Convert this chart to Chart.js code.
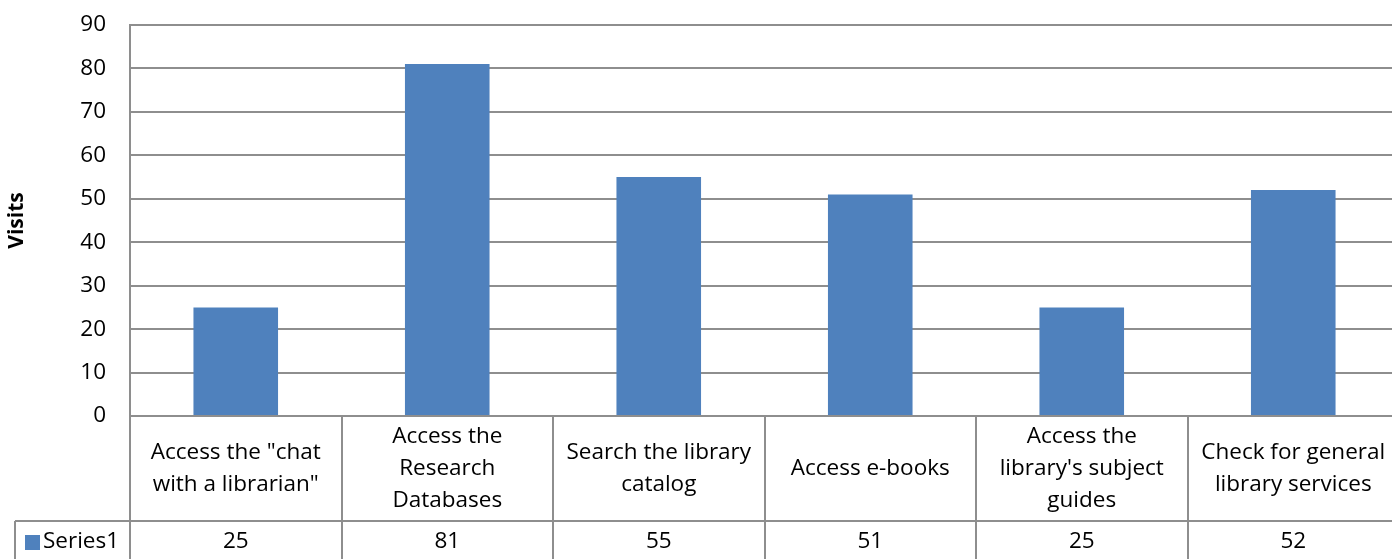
<!DOCTYPE html>
<html>
<head>
<meta charset="utf-8">
<script src="https://cdn.jsdelivr.net/npm/chart.js@4"></script>
<style>
  body { margin: 0; overflow: hidden; background: #fff; }
  #wrap { width: 1400px; height: 559px; }
</style>
</head>
<body>
<div id="wrap"><canvas id="myChart" width="1400" height="559"></canvas></div>
<script>
// categories, split into the lines they take in the data table
const categories = [
  ['Access the "chat', 'with a librarian"'],
  ['Access the', 'Research', 'Databases'],
  ['Search the library', 'catalog'],
  ['Access e-books'],
  ['Access the', "library's subject", 'guides'],
  ['Check for general', 'library services']
];
const seriesName = 'Series1';
const visits = [25, 81, 55, 51, 25, 52];
const yTicks = [0, 10, 20, 30, 40, 50, 60, 70, 80, 90];

const barColor = '#4f81bd';
const gridColor = '#8e8e8e';
const fontFamily = '"Open Sans", Lato, sans-serif';

// draws the data table under the plot (category row + values row)
const dataTable = {
  id: 'dataTable',
  afterDraw(chart) {
    const c = chart.ctx;
    const x = chart.scales.x;
    const area = chart.chartArea;
    const n = categories.length;
    const colW = (area.right - area.left) / n;
    const rowSplit = area.bottom + 105;
    const bottom = chart.height;

    c.save();
    c.strokeStyle = gridColor;
    c.lineWidth = 2;
    c.beginPath();
    for (let i = 0; i <= n; i++) {
      const px = Math.round(area.left + i * colW);
      c.moveTo(px, area.bottom);
      c.lineTo(px, bottom);
    }
    c.moveTo(15, rowSplit);
    c.lineTo(area.right, rowSplit);
    c.moveTo(15, rowSplit);
    c.lineTo(15, bottom);
    c.stroke();

    c.fillStyle = '#000';
    c.font = '22.5px ' + fontFamily;
    c.textAlign = 'center';
    c.textBaseline = 'middle';
    const lineH = 32;
    const mid = (area.bottom + rowSplit) / 2;
    categories.forEach((lines, i) => {
      const cx = x.getPixelForValue(i);
      const y0 = mid - (lines.length - 1) * lineH / 2;
      lines.forEach((t, j) => c.fillText(t, cx, y0 + j * lineH));
      c.fillText(String(visits[i]), cx, rowSplit + 21);
    });

    // legend key in the values row
    c.fillStyle = barColor;
    c.fillRect(25, rowSplit + 14, 15, 15);
    c.fillStyle = '#000';
    c.textAlign = 'left';
    c.fillText(seriesName, 43, rowSplit + 21);
    c.restore();
  }
};

new Chart(document.getElementById('myChart'), {
  type: 'bar',
  data: {
    labels: categories,
    datasets: [{
      label: seriesName,
      data: visits,
      backgroundColor: barColor,
      borderWidth: 0,
      categoryPercentage: 1,
      barPercentage: 0.4
    }]
  },
  options: {
    responsive: false,
    animation: false,
    layout: { padding: { top: 25, right: 1, bottom: 143, left: 0 } },
    plugins: { legend: { display: false }, tooltip: { enabled: false } },
    scales: {
      x: { display: false },
      y: {
        min: 0,
        max: 90,
        afterBuildTicks: (s) => { s.ticks = yTicks.map(v => ({ value: v })); },
        afterFit: (s) => { s.width = 130; s.paddingTop = 0; s.paddingBottom = 0; },
        grid: { color: gridColor, lineWidth: 2, drawTicks: false },
        border: { color: gridColor, width: 2 },
        ticks: { color: '#000', padding: 24, font: { family: fontFamily, size: 22.5 } },
        title: {
          display: true,
          text: 'Visits',
          color: '#000',
          font: { family: fontFamily, size: 21, weight: 'bold' },
          padding: { top: 4, bottom: 4 }
        }
      }
    }
  },
  plugins: [dataTable]
});
</script>
</body>
</html>
